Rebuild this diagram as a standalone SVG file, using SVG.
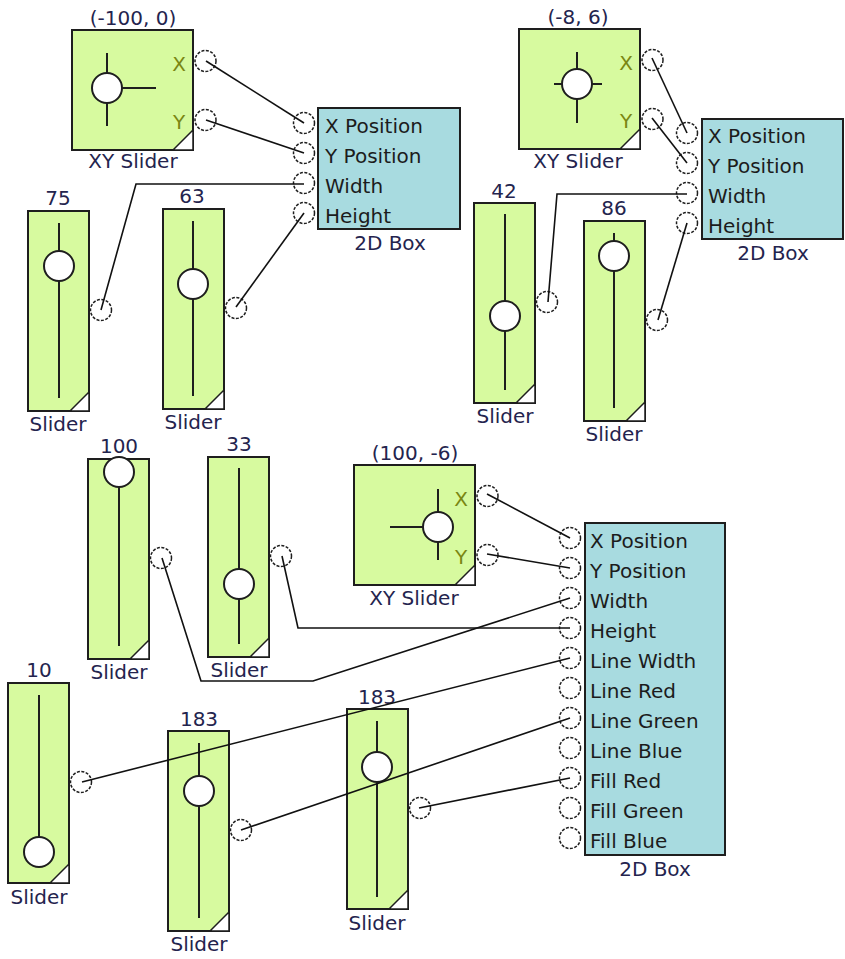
<svg xmlns="http://www.w3.org/2000/svg" width="845" height="959" viewBox="0 0 845 959">
<style>
text{font-family:"DejaVu Sans",Verdana,sans-serif;font-size:20px}
.lbl{fill:#24244e;text-anchor:middle}
.pl{fill:#1c1c1c}
.xy{fill:#7a8612;text-anchor:middle}
.g{fill:#d7fa9f;stroke:#1e1e1e;stroke-width:2}
.b{fill:#a8dbe0;stroke:#1e1e1e;stroke-width:2}
.tri{fill:#ffffff;stroke:#1e1e1e;stroke-width:1.5}
.ln{stroke:#1e1e1e;stroke-width:2;fill:none}
.knob{fill:#ffffff;stroke:#1e1e1e;stroke-width:2}
.port{fill:none;stroke:#1e1e1e;stroke-width:1.5;stroke-dasharray:3 1.5}
.c{fill:none;stroke:#111111;stroke-width:1.6}
</style>
<defs>
<g id="slider">
<rect class="g" x="0" y="0" width="61" height="200"/>
<polygon class="tri" points="42,200 61,181 61,200"/>
<circle class="port" cx="73" cy="99" r="10.5"/>
</g>
<g id="xyb">
<rect class="g" x="0" y="0" width="121" height="120"/>
<polygon class="tri" points="101,120 121,100 121,120"/>
<circle class="port" cx="133.5" cy="31" r="10.5"/>
<circle class="port" cx="133.5" cy="90" r="10.5"/>
<text class="xy" x="107" y="41">X</text>
<text class="xy" x="107" y="99">Y</text>
</g>
</defs>

<g id="xy1">
<use href="#xyb" x="72" y="30"/>
<line class="ln" x1="107" y1="53" x2="107" y2="126"/>
<line class="ln" x1="107" y1="88" x2="156" y2="88"/>
<circle class="knob" cx="107" cy="88" r="15"/>
<text class="lbl" x="133" y="25">(-100, 0)</text>
<text class="lbl" x="133" y="168">XY Slider</text>
</g>

<g id="box1">
<rect class="b" x="318" y="108" width="142" height="121"/>
<circle class="port" cx="304" cy="123" r="10.5"/>
<circle class="port" cx="304" cy="153" r="10.5"/>
<circle class="port" cx="304" cy="183" r="10.5"/>
<circle class="port" cx="304" cy="213" r="10.5"/>
<text class="pl" x="325" y="133">X Position</text>
<text class="pl" x="325" y="163">Y Position</text>
<text class="pl" x="325" y="193">Width</text>
<text class="pl" x="325" y="223">Height</text>
<text class="lbl" x="390" y="250">2D Box</text>
</g>

<g id="s75">
<use href="#slider" x="28" y="211"/>
<line class="ln" x1="59" y1="223" x2="59" y2="398"/>
<circle class="knob" cx="59" cy="266" r="15"/>
<text class="lbl" x="58" y="205">75</text>
<text class="lbl" x="58" y="431">Slider</text>
</g>

<g id="s63">
<use href="#slider" x="163" y="209"/>
<line class="ln" x1="193" y1="221" x2="193" y2="396"/>
<circle class="knob" cx="193" cy="284" r="15"/>
<text class="lbl" x="192" y="203">63</text>
<text class="lbl" x="193" y="429">Slider</text>
</g>

<g id="xy2">
<use href="#xyb" x="519" y="29"/>
<line class="ln" x1="577" y1="52" x2="577" y2="123"/>
<line class="ln" x1="554" y1="84" x2="602" y2="84"/>
<circle class="knob" cx="577" cy="84" r="15"/>
<text class="lbl" x="578" y="24">(-8, 6)</text>
<text class="lbl" x="578" y="168">XY Slider</text>
</g>

<g id="box2">
<rect class="b" x="702" y="119" width="141" height="120"/>
<circle class="port" cx="687" cy="133" r="10.5"/>
<circle class="port" cx="687" cy="163" r="10.5"/>
<circle class="port" cx="687" cy="193" r="10.5"/>
<circle class="port" cx="687" cy="223" r="10.5"/>
<text class="pl" x="708" y="143">X Position</text>
<text class="pl" x="708" y="173">Y Position</text>
<text class="pl" x="708" y="203">Width</text>
<text class="pl" x="708" y="233">Height</text>
<text class="lbl" x="773" y="260">2D Box</text>
</g>

<g id="s42">
<use href="#slider" x="474" y="203"/>
<line class="ln" x1="505" y1="214" x2="505" y2="390"/>
<circle class="knob" cx="505" cy="316" r="15"/>
<text class="lbl" x="504" y="198">42</text>
<text class="lbl" x="505" y="423">Slider</text>
</g>

<g id="s86">
<use href="#slider" x="584" y="221"/>
<line class="ln" x1="614" y1="233" x2="614" y2="408"/>
<circle class="knob" cx="614" cy="256" r="15"/>
<text class="lbl" x="614" y="215">86</text>
<text class="lbl" x="614" y="441">Slider</text>
</g>

<g id="s100">
<use href="#slider" x="88" y="459"/>
<line class="ln" x1="119" y1="472" x2="119" y2="646"/>
<circle class="knob" cx="119" cy="472" r="15"/>
<text class="lbl" x="119" y="453">100</text>
<text class="lbl" x="119" y="679">Slider</text>
</g>

<g id="s33">
<use href="#slider" x="208" y="457"/>
<line class="ln" x1="239" y1="468" x2="239" y2="644"/>
<circle class="knob" cx="239" cy="584" r="15"/>
<text class="lbl" x="239" y="451">33</text>
<text class="lbl" x="239" y="677">Slider</text>
</g>

<g id="xy3">
<use href="#xyb" x="354" y="465"/>
<line class="ln" x1="438" y1="489" x2="438" y2="560"/>
<line class="ln" x1="390" y1="527" x2="438" y2="527"/>
<circle class="knob" cx="438" cy="527" r="15"/>
<text class="lbl" x="415" y="460">(100, -6)</text>
<text class="lbl" x="414" y="605">XY Slider</text>
</g>

<g id="box3">
<rect class="b" x="585" y="523" width="140" height="332"/>
<circle class="port" cx="570" cy="538" r="10.5"/>
<circle class="port" cx="570" cy="568" r="10.5"/>
<circle class="port" cx="570" cy="598" r="10.5"/>
<circle class="port" cx="570" cy="628" r="10.5"/>
<circle class="port" cx="570" cy="658" r="10.5"/>
<circle class="port" cx="570" cy="688" r="10.5"/>
<circle class="port" cx="570" cy="718" r="10.5"/>
<circle class="port" cx="570" cy="748" r="10.5"/>
<circle class="port" cx="570" cy="778" r="10.5"/>
<circle class="port" cx="570" cy="808" r="10.5"/>
<circle class="port" cx="570" cy="838" r="10.5"/>
<text class="pl" x="590" y="548">X Position</text>
<text class="pl" x="590" y="578">Y Position</text>
<text class="pl" x="590" y="608">Width</text>
<text class="pl" x="590" y="638">Height</text>
<text class="pl" x="590" y="668">Line Width</text>
<text class="pl" x="590" y="698">Line Red</text>
<text class="pl" x="590" y="728">Line Green</text>
<text class="pl" x="590" y="758">Line Blue</text>
<text class="pl" x="590" y="788">Fill Red</text>
<text class="pl" x="590" y="818">Fill Green</text>
<text class="pl" x="590" y="848">Fill Blue</text>
<text class="lbl" x="655" y="876">2D Box</text>
</g>

<g id="s10">
<use href="#slider" x="8" y="683"/>
<line class="ln" x1="39" y1="695" x2="39" y2="852"/>
<circle class="knob" cx="39" cy="852" r="15"/>
<text class="lbl" x="39" y="677">10</text>
<text class="lbl" x="39" y="904">Slider</text>
</g>

<g id="s183a">
<use href="#slider" x="168" y="731"/>
<line class="ln" x1="199" y1="743" x2="199" y2="918"/>
<circle class="knob" cx="199" cy="791" r="15"/>
<text class="lbl" x="199" y="726">183</text>
<text class="lbl" x="199" y="951">Slider</text>
</g>

<g id="s183b">
<use href="#slider" x="347" y="709"/>
<line class="ln" x1="377" y1="721" x2="377" y2="897"/>
<circle class="knob" cx="377" cy="767" r="15"/>
<text class="lbl" x="377" y="704">183</text>
<text class="lbl" x="377" y="930">Slider</text>
</g>

<g id="connectors">
<polyline class="c" points="206,61 304,123"/>
<polyline class="c" points="206,120 304,153"/>
<polyline class="c" points="101,310 136,184 304,184"/>
<polyline class="c" points="236,307 304,213"/>
<polyline class="c" points="652,58 687,133"/>
<polyline class="c" points="652,118 687,163"/>
<polyline class="c" points="548,302 557,194 687,194"/>
<polyline class="c" points="658,320 687,223"/>
<polyline class="c" points="487,494 570,538"/>
<polyline class="c" points="487,554 570,568"/>
<polyline class="c" points="162,558 201,681 313,681 570,598"/>
<polyline class="c" points="282,556 298,628 570,628"/>
<polyline class="c" points="82,782 570,658"/>
<polyline class="c" points="241,830 570,718"/>
<polyline class="c" points="419,808 570,778"/>
</g>
</svg>
